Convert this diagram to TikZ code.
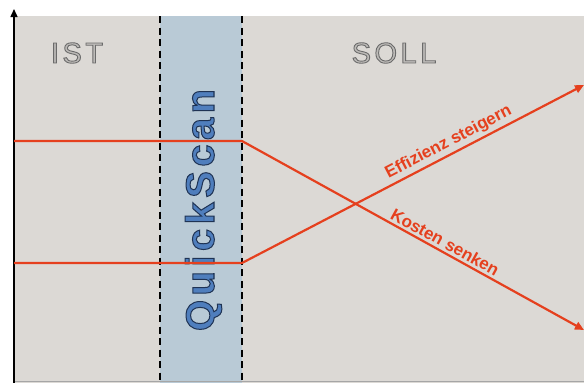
\documentclass[tikz,border=0pt]{standalone}
\usepackage{fontspec}
\setmainfont{Liberation Sans}
\newfontfamily\headfont[LetterSpace=12]{Liberation Sans}
\newfontfamily\qsfont[LetterSpace=11]{Liberation Sans}
\usetikzlibrary{arrows.meta}
\definecolor{bgcol}{HTML}{DCD9D5}
\definecolor{bandcol}{HTML}{B9CAD6}
\definecolor{redcol}{HTML}{E5401E}
\definecolor{headfill}{HTML}{BDBBB8}
\definecolor{qsfill}{HTML}{4F7EBD}
% outlined text: stroke colour (r g b), stroke width, text
\newcommand\outltext[3]{\special{pdf:literal direct #1 RG #2 w 2 Tr}#3\special{pdf:literal direct 0 Tr}}
\tikzset{
  dashline/.style={draw=black, line width=1.3pt, dash pattern=on 7pt off 4.5pt},
  redline/.style={draw=redcol, line width=2.2pt},
  redarrow/.style={redline, -{Triangle[length=9pt,width=8pt]}},
  axisline/.style={draw=black, line width=1.4pt, -{Triangle[length=8pt,width=7pt]}},
  headtext/.style={inner sep=0pt, text=headfill, font=\headfont\fontsize{29}{29}\selectfont},
  qstext/.style={inner sep=0pt, rotate=90, anchor=base, text=qsfill, font=\qsfont\bfseries\fontsize{40}{40}\selectfont},
  lbl/.style={text=redcol, font=\bfseries\fontsize{17}{18}\selectfont, sloped, above, inner sep=2.5pt}
}
\begin{document}
\begin{tikzpicture}[x=1pt,y=-1pt]
\useasboundingbox (0,0) rectangle (584,383);
\fill[bgcol] (14,16) rectangle (584,383);
\fill[bandcol] (160,16) rectangle (242,383);
\draw[gray!70, line width=0.8pt] (14,381.5) -- (584,381.5);
% dashed separators
\coordinate (d1t) at (160,16);
\coordinate (d1b) at (160,383);
\coordinate (d2t) at (242,16);
\coordinate (d2b) at (242,383);
\draw[dashline] (d1t) -- (d1b);
\draw[dashline] (d2t) -- (d2b);
% axis
\coordinate (ax0) at (14,383);
\coordinate (ax1) at (14,9);
\draw[axisline] (ax0) -- (ax1);
% headings
\node[headtext] (ist) at (77,53) {\outltext{0.42 0.42 0.42}{0.9}{IST}};
\node[headtext] (soll) at (394,53) {\outltext{0.42 0.42 0.42}{0.9}{SOLL}};
\node[qstext] (qs) at (214,210) {\outltext{0.12 0.2 0.33}{1}{QuickScan}};
% red lines
\coordinate (k0) at (14,141);
\coordinate (k1) at (242,141);
\coordinate (k2) at (584,330);
\coordinate (e0) at (14,263);
\coordinate (e1) at (242,263);
\coordinate (e2) at (584,85);
\draw[redarrow] (k0) -- (k1) -- node[lbl, pos=0.58] (klbl) {Kosten senken} (k2);
\draw[redarrow] (e0) -- (e1) -- node[lbl, pos=0.62] (elbl) {Effizienz steigern} (e2);
\end{tikzpicture}
\end{document}
